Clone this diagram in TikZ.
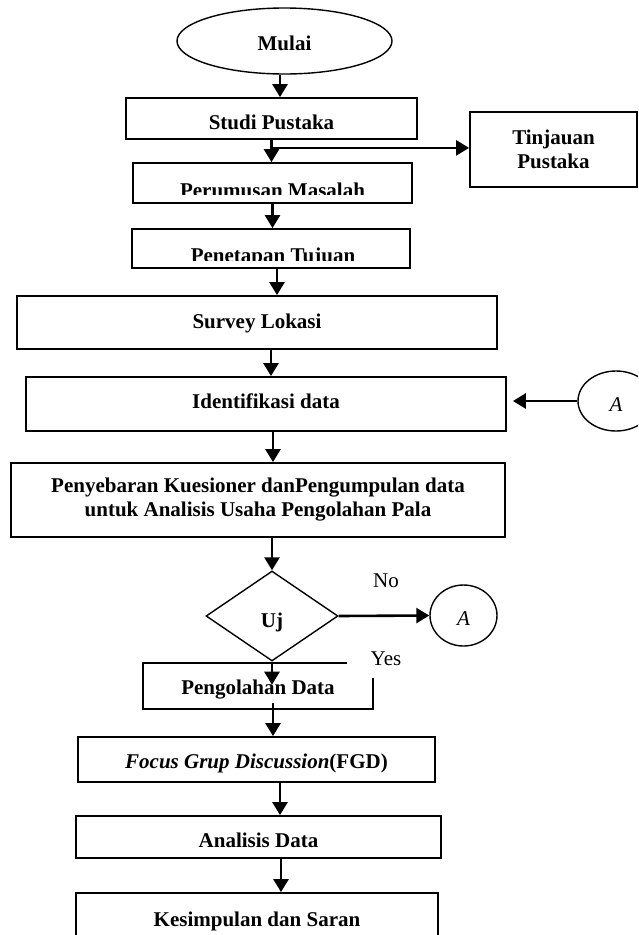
\documentclass[tikz,border=0pt]{standalone}
\usepackage{fontspec}
\setmainfont{Liberation Serif}
\usetikzlibrary{arrows.meta,shapes.geometric}
\newcommand{\fsz}{\fontsize{21}{24}\selectfont}
\begin{document}
\begin{tikzpicture}[x=1pt,y=-1pt,
  every node/.style={font=\fsz, inner sep=0pt},
  bf/.style={font=\fsz\bfseries},
  boxbase/.style={draw, line width=1.8pt, rectangle},
  box/.style={boxbase, text height=14pt, text depth=0pt},
  thinl/.style={line width=1.4pt},
  arr/.style={line width=2.6pt, -{Triangle[length=13pt,width=15pt]}}
]
\clip (0,0) rectangle (638,935);
\fill[white] (0,0) rectangle (638,935);

% nodes
\node[draw, thinl, ellipse, bf, minimum width=215pt, minimum height=66pt, text height=18.6pt, text depth=0pt] (mulai) at (284.5,41) {Mulai};
\node[box, bf, minimum width=291pt, minimum height=41pt, text height=21pt] (studi) at (271.5,118.5) {Studi Pustaka};
\node[boxbase, bf, align=center, minimum width=167pt, minimum height=75pt] (tinj) at (553.5,149.5) {Tinjauan\\Pustaka};

\node[boxbase, minimum width=279pt, minimum height=40pt] (perum) at (272.5,183) {};
\begin{scope}
  \clip (133,163) rectangle (412,194);
  \node[bf, anchor=base] (perumtxt) at (272.5,197) {Perumusan Masalah};
\end{scope}

\node[boxbase, minimum width=278pt, minimum height=39pt] (penet) at (271,248.5) {};
\begin{scope}
  \clip (132,229) rectangle (410,260);
  \node[bf, anchor=base] (penettxt) at (273,262) {Penetapan Tujuan};
\end{scope}

\node[box, bf, minimum width=480pt, minimum height=53pt, text depth=3pt] (survey) at (257,322.5) {Survey Lokasi};
\node[box, bf, minimum width=480pt, minimum height=54pt, text depth=5pt] (ident) at (266,404) {Identifikasi data};
\node[draw, thinl, ellipse, minimum width=76pt, minimum height=60pt, text height=20pt, text depth=0pt] (a1) at (616,401) {\textit{A}};

\node[boxbase, bf, align=center, minimum width=494pt, minimum height=74pt] (penyeb) at (258,500) {Penyebaran Kuesioner danPengumpulan data\\untuk Analisis Usaha Pengolahan Pala};

\node[draw, thinl, diamond, bf, minimum width=132pt, minimum height=90pt, text height=22pt, text depth=0pt] (dia) at (272,616) {Uj};
\node[draw, thinl, ellipse, minimum width=67pt, minimum height=61pt, text height=20pt, text depth=0pt] (a2) at (463.5,615.5) {\textit{A}};
\node[anchor=base] (no) at (386,587) {No};
\node[anchor=base] (yes) at (386,665) {Yes};

\node[bf, minimum width=230pt, minimum height=46pt, text height=16pt, text depth=0pt, outer sep=0pt] (peng) at (258,686) {Pengolahan Data};
\draw[line width=1.8pt] ([xshift=-26pt]peng.north east) -- (peng.north west) -- (peng.south west) -- (peng.south east) -- ([yshift=-15pt]peng.north east);

\node[box, bf, minimum width=357pt, minimum height=45pt, text height=18pt] (fgd) at (256.5,759.5) {\textit{Focus Grup Discussion}(FGD)};
\node[box, bf, minimum width=365pt, minimum height=42pt, text height=20pt] (anal) at (258.5,837) {Analisis Data};
\node[box, bf, minimum width=362pt, minimum height=52pt] (kes) at (257,919) {Kesimpulan dan Saran};

% connectors
\coordinate (c1) at ([xshift=-4.5pt]mulai.south);
\draw[arr] (c1) -- (c1 |- studi.north);
\draw[arr] (studi.south) -- (studi.south |- perum.north);
\coordinate (br) at ([yshift=-8pt]studi.south);
\draw[arr] (br) -- (br -| tinj.west);
\draw[arr] (perum.south) -- (perum.south |- penet.north);
\coordinate (c5) at ([xshift=6pt]penet.south);
\draw[arr] (c5) -- (c5 |- survey.north);
\coordinate (c6) at ([xshift=14pt]survey.south);
\draw[arr] (c6) -- (c6 |- ident.north);
\draw[arr, shorten >=6pt] (a1.west) -- (a1.west -| ident.east);
\coordinate (c8) at ([xshift=7pt]ident.south);
\draw[arr] (c8) -- (c8 |- penyeb.north);
\coordinate (c9) at ([xshift=14pt]penyeb.south);
\draw[arr] (c9) -- (c9 |- dia.north);
\draw[arr] (dia.east) -- (a2.west);
\draw[arr] (dia.south) -- ++(0,23);
\coordinate (c12) at ([xshift=15pt,yshift=6pt]peng.south);
\draw[arr] (c12) -- (c12 |- fgd.north);
\coordinate (c13) at ([xshift=23.5pt]fgd.south);
\draw[arr] (c13) -- (c13 |- anal.north);
\coordinate (c14) at ([xshift=22.5pt]anal.south);
\draw[arr] (c14) -- (c14 |- kes.north);
\end{tikzpicture}
\end{document}
